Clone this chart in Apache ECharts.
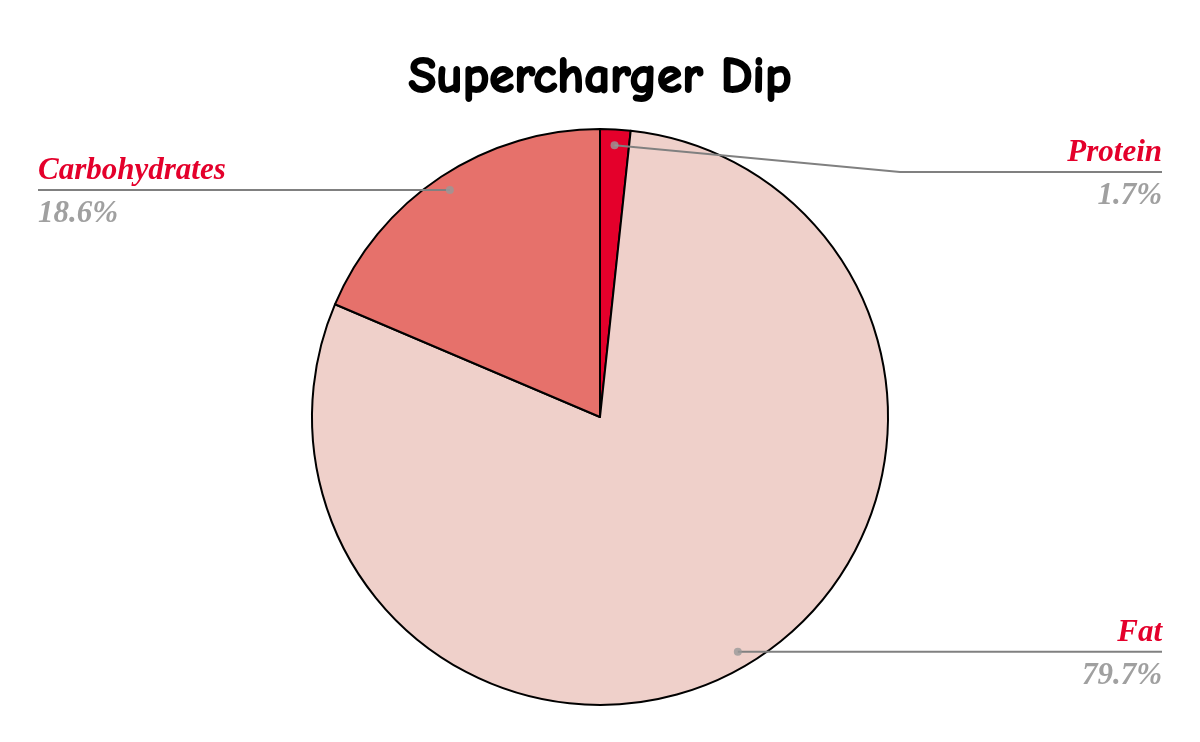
<!DOCTYPE html>
<html lang="en">
<head>
    <meta charset="UTF-8">
    <title>Supercharger Dip</title>
    <script src="https://cdn.jsdelivr.net/npm/echarts@6/dist/echarts.min.js"></script>
    <style>
        body { margin: 0; background: #fff; }
        #main { width: 1200px; height: 742px; }
    </style>
</head>
<body>
    <div id="main"></div>
    <script>
        // nutrient shares, in drawing order (clockwise from 12 o'clock)
        const categories = ['Protein', 'Fat', 'Carbohydrates'];
        const shares = [1.7, 79.7, 18.6];
        const sliceColors = ['#e4002b', '#efd0ca', '#e6716b'];

        const cx = 600, cy = 417, R = 288;
        const dotRatio = 0.945;   // label line starts a bit inside the rim
        const edgeGap = 38;
        const labelTop = 172;

        // slice midpoints as percent of the circle, for the grey dots
        const total = shares.reduce((a, b) => a + b, 0);
        let run = 0;
        const dots = shares.map(function (v) {
            const mid = run + v / 2;
            run += v;
            return [dotRatio, mid / total * 100];
        });

        const serif = '"Liberation Serif", "Times New Roman", serif';
        const chart = echarts.init(document.getElementById('main'));

        const pieData = categories.map(function (c, i) {
            return { name: c, value: shares[i], itemStyle: { color: sliceColors[i] } };
        });

        chart.setOption({
            backgroundColor: '#fff',
            title: {
                text: 'Supercharger Dip',
                left: 'center',
                top: 47,
                textStyle: {
                    fontFamily: '"Comic Sans MS", "Comic Neue", cursive',
                    fontSize: 51,
                    fontWeight: 'bold',
                    color: '#000',
                    textBorderColor: '#000',
                    textBorderWidth: 1.8
                }
            },
            polar: { center: [cx, cy], radius: R },
            angleAxis: { type: 'value', min: 0, max: 100, startAngle: 90, show: false },
            radiusAxis: { min: 0, max: 1, show: false },
            series: [
                {
                    // the slices
                    type: 'pie',
                    center: [cx, cy],
                    radius: R,
                    startAngle: 90,
                    silent: true,
                    itemStyle: { borderColor: '#000', borderWidth: 2 },
                    label: { show: false },
                    labelLine: { show: false },
                    data: pieData,
                    z: 2
                },
                {
                    // labels and leader lines, drawn over the slices
                    type: 'pie',
                    center: [cx, cy],
                    radius: R,
                    startAngle: 90,
                    percentPrecision: 1,
                    silent: true,
                    itemStyle: { color: 'rgba(0,0,0,0)', borderWidth: 0 },
                    data: categories.map(function (c, i) {
                        return { name: c, value: shares[i] };
                    }),
                    label: {
                        show: true,
                        position: 'outside',
                        formatter: '{n|{b}}\n{v|{d}%}',
                        rich: {
                            n: {
                                fontFamily: serif, fontSize: 31, fontWeight: 'bold',
                                fontStyle: 'italic', color: '#e4002b', lineHeight: 48
                            },
                            v: {
                                fontFamily: serif, fontSize: 31, fontWeight: 'bold',
                                fontStyle: 'italic', color: '#a0a0a0', lineHeight: 38
                            }
                        }
                    },
                    labelLine: {
                        show: true,
                        length: 10,
                        length2: 10,
                        lineStyle: { color: '#808080', width: 2 }
                    },
                    labelLayout: function (params) {
                        const p0 = params.labelLinePoints[0];
                        const dot = [cx + (p0[0] - cx) * dotRatio, cy + (p0[1] - cy) * dotRatio];
                        const isLeft = p0[0] < cx;
                        const endX = isLeft ? edgeGap : chart.getWidth() - edgeGap;
                        const y = Math.max(dot[1], labelTop);
                        let bend = [dot[0], y];
                        if (y !== dot[1]) {
                            bend = [endX + (isLeft ? 262 : -262), y];
                        }
                        return {
                            x: endX,
                            y: y,
                            align: isLeft ? 'left' : 'right',
                            verticalAlign: 'middle',
                            labelLinePoints: [dot, bend, [endX, y]]
                        };
                    },
                    z: 4
                },
                {
                    type: 'scatter',
                    coordinateSystem: 'polar',
                    data: dots,
                    symbolSize: 8,
                    silent: true,
                    itemStyle: { color: '#999' },
                    z: 6
                }
            ]
        });
    </script>
</body>
</html>
